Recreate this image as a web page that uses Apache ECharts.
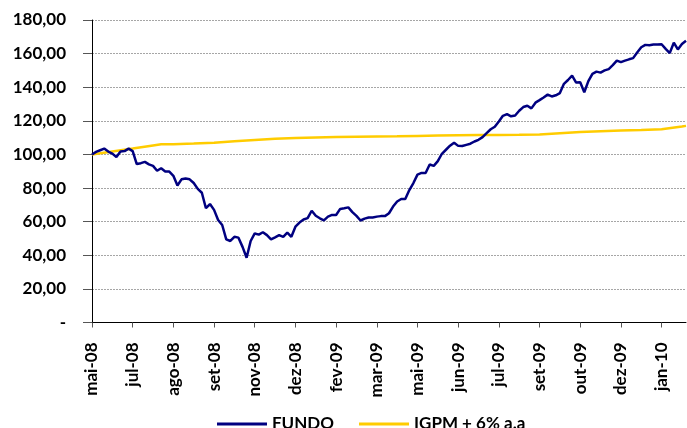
<!DOCTYPE html>
<html>
<head>
<meta charset="utf-8">
<script src="https://cdn.jsdelivr.net/npm/echarts@6/dist/echarts.min.js"></script>
<style>
html,body{margin:0;padding:0;background:#fff;}
#c{width:687px;height:428px;}
</style>
</head>
<body>
<div id="c"></div>
<script>
// x-axis tick labels (one every 10 observations)
const tickLabels = ['mai-08','jul-08','ago-08','set-08','nov-08','dez-08','fev-09','mar-09','mai-09','jun-09','jul-09','set-09','out-09','dez-09','jan-10'];
const tickIdx = [0,10,20,30,40,50,60,70,80,90,100,110,120,130,140];
const lastIdx = 146;

// FUNDO (index, base 100), one value per observation 0..146
const fundo = [
  100,101.5,102.5,103.5,101.7,100.5,98.5,101.8,102,103.5,
  102,94.3,94.8,95.6,94.1,93.2,90.3,91.8,89.9,89.8,
  87.3,81.5,85.2,85.7,85.2,83,79.5,77.2,68,70.5,
  67,61,58,49.5,48.5,51,50.5,45,38.5,48.5,
  53,52.3,53.7,52,49.5,50.7,52,51,53.5,51,
  57,59.5,61.3,62.1,66.5,63.5,62,60.8,63,64,
  64,67.6,68,68.5,65.7,63.4,60.7,61.8,62.5,62.5,
  63,63.3,63.3,65,69,72,73.5,73.5,78.8,83,
  88,89,89,94,93.2,96,100.4,102.8,105.2,107,
  105.1,105,105.7,106.4,107.7,108.7,110.3,112.7,115,116.5,
  119.6,123,124,122.7,123.2,126,128.2,129,127.4,130.8,
  132.3,133.9,135.6,134.5,135.2,136.5,142,144.3,146.9,142.8,
  142.9,137,143.6,148,149.3,148.7,150,150.8,153.1,155.8,
  154.9,155.8,156.6,157.3,160.7,163.8,165.2,165,165.4,165.4,
  165.6,162.8,160.3,166.5,162.5,165.7,167.6
];

// IGPM + 6% a.a (observation index, value)
const igpmIdx = [0,5,10,15,17,20,25,30,35,40,45,50,55,60,65,70,75,80,85,90,95,100,105,110,115,120,125,130,135,140,145,146];
const igpm    = [100,101.8,103.5,105.3,106,106.1,106.5,107,107.8,108.6,109.4,109.8,110.1,110.4,110.6,110.7,110.8,111,111.2,111.4,111.5,111.6,111.7,111.9,112.6,113.3,113.8,114.3,114.6,115,116.6,117];

const seriesNames = ['FUNDO','IGPM + 6% a.a'];

const fundoData = fundo.map((v,i)=>[i,v]);
const igpmData = igpm.map((v,i)=>[igpmIdx[i],v]);

const FONT = 'Lato, "Open Sans", "Liberation Sans", sans-serif';

const chart = echarts.init(document.getElementById('c'), null, {renderer:'canvas'});
chart.setOption({
  animation:false,
  backgroundColor:'#ffffff',
  grid:{left:92, right:1, top:20, height:302.5, containLabel:false},
  legend:{
    data:seriesNames,
    left:212, top:410,
    itemWidth:50, itemHeight:3, itemGap:25,
    icon:'rect',
    textStyle:{fontFamily:FONT, fontWeight:'bold', fontSize:17, color:'#000', lineHeight:18}
  },
  xAxis:{
    type:'value', min:0, max:lastIdx,
    axisLine:{show:true, onZero:false, lineStyle:{color:'#000', width:1}},
    axisTick:{show:true, length:5, customValues:tickIdx, lineStyle:{color:'#555'}},
    splitLine:{show:false},
    axisLabel:{
      customValues:tickIdx,
      rotate:90, margin:20,
      fontFamily:FONT, fontWeight:'bold', fontSize:17, color:'#000',
      formatter:(v)=>{ const k = tickIdx.indexOf(Math.round(v)); return k>=0 ? tickLabels[k] : ''; }
    }
  },
  yAxis:{
    type:'value', min:0, max:180, interval:20,
    axisLine:{show:true, lineStyle:{color:'#000', width:1}},
    axisTick:{show:true, length:9, lineStyle:{color:'#555'}},
    splitLine:{show:true, lineStyle:{color:'#a6a6a6', type:[2,1], width:1}},
    axisLabel:{
      margin:26,
      fontFamily:FONT, fontWeight:'bold', fontSize:17, color:'#000',
      formatter:(v)=> v===0 ? '-' : v.toFixed(2).replace('.',',')
    }
  },
  series:[
    {name:seriesNames[1], type:'line', data:igpmData, showSymbol:false, symbol:'none',
     lineStyle:{color:'#FFCC00', width:2.5}, itemStyle:{color:'#FFCC00'}, z:2},
    {name:seriesNames[0], type:'line', data:fundoData, showSymbol:false, symbol:'none',
     lineStyle:{color:'#000080', width:2.5}, itemStyle:{color:'#000080'}, z:3}
  ]
});
</script>
</body>
</html>
